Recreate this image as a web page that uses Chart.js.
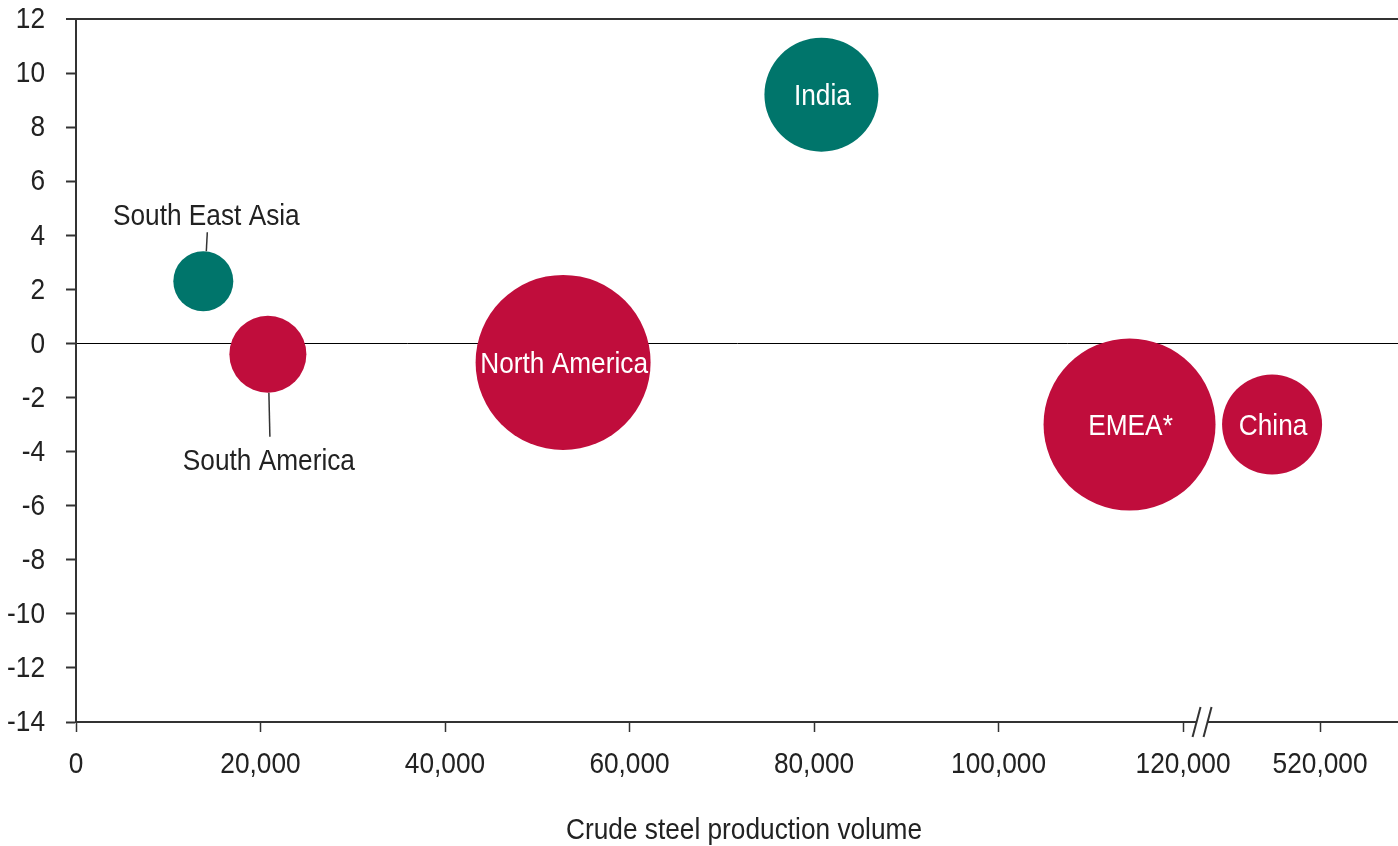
<!DOCTYPE html>
<html>
<head>
<meta charset="utf-8">
<script src="https://cdn.jsdelivr.net/npm/chart.js@4/dist/chart.umd.min.js"></script>
<style>
  html, body { margin: 0; padding: 0; background: #fff; }
  #wrap { width: 1398px; height: 846px; }
</style>
</head>
<body>
<div id="wrap"><canvas id="steelChart" width="1398" height="846"></canvas></div>
<script>
// regions, crude steel output and change (%) with bubble size
const regions = ['South East Asia', 'South America', 'North America', 'India', 'EMEA*', 'China'];
const production = [13800, 20800, 52800, 80800, 114200, 514800];
const change = [2.3, -0.4, -0.7, 9.2, -3.0, -3.0];
const bubbleSize = [30, 38.5, 87.5, 57, 86, 50];

const xTickValues = [0, 20000, 40000, 60000, 80000, 100000, 120000, 520000];
const yMin = -14, yMax = 12, yStep = 2;

// the x axis is broken after 120,000 and resumes near 520,000
const BREAK_FROM = 120000;
const BREAK_TO = 520000;
const BREAK_TO_POS = 134850;
const X_AXIS_MAX = 143300;

const TEAL = '#00756B';
const CRIMSON = '#C00D3C';
const INK = '#222222';
const AXIS = '#333333';
const FONT = '30px "Liberation Sans", Arial, sans-serif';
const SQUEEZE = 0.875;

function toAxis(v) {
  return v <= BREAK_FROM ? v : v - BREAK_TO + BREAK_TO_POS;
}

function drawText(ctx, str, x, y, align, color) {
  ctx.save();
  ctx.translate(x, y);
  ctx.scale(SQUEEZE, 1);
  ctx.font = FONT;
  ctx.fillStyle = color;
  ctx.textAlign = align;
  ctx.textBaseline = 'middle';
  ctx.fillText(str, 0, 0);
  ctx.restore();
}

const points = regions.map((name, i) => ({ x: toAxis(production[i]), y: change[i], r: bubbleSize[i] }));

const textLayer = {
  id: 'textLayer',
  afterDraw(chart) {
    const ctx = chart.ctx;
    const xs = chart.scales.x, ys = chart.scales.y;
    const area = chart.chartArea;

    // y tick labels
    for (let v = yMin; v <= yMax; v += yStep) {
      drawText(ctx, String(v), area.left - 31, ys.getPixelForValue(v) + 1, 'right', INK);
    }
    // x tick labels
    xTickValues.forEach(v => {
      drawText(ctx, v.toLocaleString('en-US'), xs.getPixelForValue(toAxis(v)), area.bottom + 43, 'center', INK);
    });
    drawText(ctx, 'Crude steel production volume', 744, 831, 'center', INK);

    // axis break marks
    const bx = xs.getPixelForValue(BREAK_FROM) + 19;
    const by = area.bottom;
    ctx.save();
    ctx.fillStyle = '#fff';
    ctx.fillRect(bx - 5, by - 3, 10, 6);
    ctx.strokeStyle = AXIS;
    ctx.lineWidth = 2;
    [-5.5, 5.5].forEach(dx => {
      ctx.beginPath();
      ctx.moveTo(bx + dx - 4, by + 15);
      ctx.lineTo(bx + dx + 4, by - 15);
      ctx.stroke();
    });
    ctx.restore();

    // labels inside bubbles and callouts
    const meta = chart.getDatasetMeta(0);
    regions.forEach((name, i) => {
      const el = meta.data[i];
      const r = bubbleSize[i];
      if (name === 'South East Asia') {
        ctx.save();
        ctx.strokeStyle = '#333';
        ctx.lineWidth = 1.5;
        ctx.beginPath();
        ctx.moveTo(el.x + 3, el.y - r);
        ctx.lineTo(el.x + 4, el.y - r - 19);
        ctx.stroke();
        ctx.restore();
        drawText(ctx, name, el.x + 3, el.y - r - 35, 'center', INK);
      } else if (name === 'South America') {
        ctx.save();
        ctx.strokeStyle = '#333';
        ctx.lineWidth = 1.5;
        ctx.beginPath();
        ctx.moveTo(el.x + 1, el.y + r);
        ctx.lineTo(el.x + 2, el.y + r + 44);
        ctx.stroke();
        ctx.restore();
        drawText(ctx, name, el.x + 1, el.y + r + 69, 'center', INK);
      } else {
        drawText(ctx, name, el.x + 1, el.y + 2, 'center', '#ffffff');
      }
    });
  }
};

new Chart(document.getElementById('steelChart'), {
  type: 'bubble',
  data: {
    datasets: [{
      data: points,
      backgroundColor: change.map(c => c > 0 ? TEAL : CRIMSON),
      borderWidth: 0,
      hoverBorderWidth: 0,
      clip: false
    }]
  },
  options: {
    responsive: false,
    animation: false,
    layout: { autoPadding: false, padding: { top: 19, right: 0, left: 0, bottom: 0 } },
    plugins: { legend: { display: false }, tooltip: { enabled: false } },
    scales: {
      x: {
        type: 'linear',
        min: 0,
        max: X_AXIS_MAX,
        afterBuildTicks: scale => {
          scale.ticks = xTickValues.map(v => ({ value: toAxis(v) }));
        },
        afterFit: scale => { scale.height = 124; },
        ticks: { display: false },
        grid: { drawOnChartArea: false, tickLength: 10, tickColor: AXIS, tickWidth: 1.5 },
        border: { color: AXIS, width: 2 }
      },
      y: {
        min: yMin,
        max: yMax,
        ticks: { display: false, stepSize: yStep },
        afterFit: scale => { scale.width = 76; },
        grid: {
          tickLength: 10,
          tickColor: AXIS,
          tickWidth: 2,
          color: c => c.tick.value === 0 ? '#000' : (c.tick.value === yMax ? AXIS : 'rgba(0,0,0,0)'),
          lineWidth: c => c.tick.value === yMax ? 2 : 1
        },
        border: { color: AXIS, width: 2 }
      }
    }
  },
  plugins: [textLayer]
});
</script>
</body>
</html>
